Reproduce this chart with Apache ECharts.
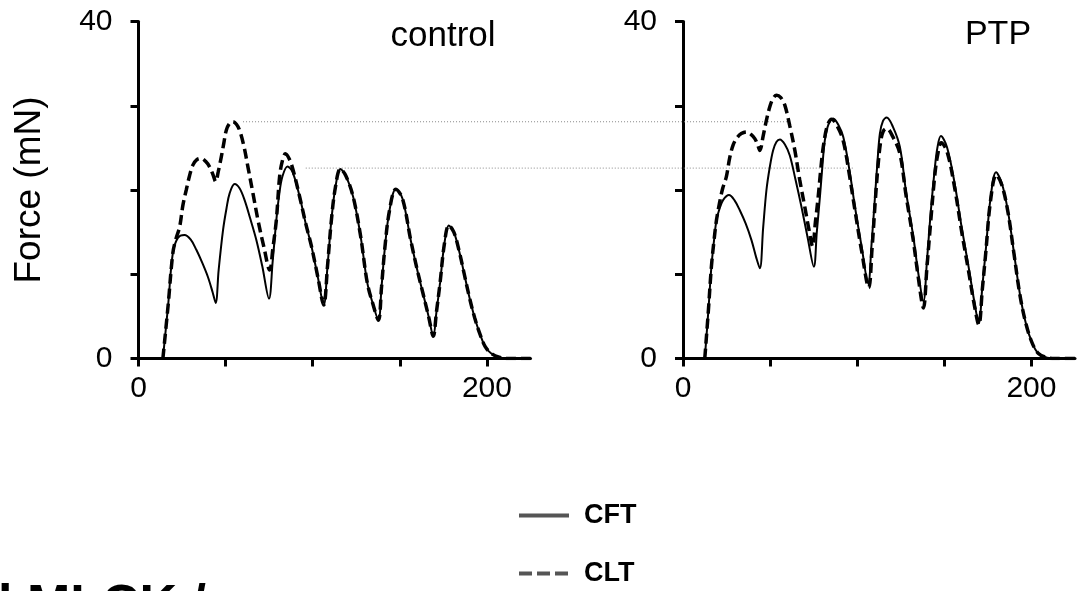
<!DOCTYPE html>
<html><head><meta charset="utf-8">
<script src="https://cdn.jsdelivr.net/npm/echarts@6/dist/echarts.min.js"></script>
<style>html,body{margin:0;padding:0;background:#fff}#c{width:1079px;height:591px}</style>
</head><body><div id="c"></div>
<script>
// ---- data ----
const panelNames = ['control', 'PTP'];
const xTicks = [0, 50, 100, 150, 200];
const xLabels = [0, 200];
const yTicks = [0, 10, 20, 30, 40];
const yLabels = [0, 40];
const seriesNames = ['CFT', 'CLT'];

const controlCFT = [[14,0],[17,6.3],[19.7,12.5],[22.6,14.3],[26.4,14.65],[30,14.1],[33.2,12.9],[36.5,11.4],[39.8,9.7],[42.5,7.9],[44.3,6.6],[46,10.5],[48.5,15.2],[50.5,17.8],[52.3,19.6],[55.2,20.7],[58,20.2],[60.9,18.8],[64,16.7],[67.6,14.1],[71,11],[74.9,7.1],[77,11.5],[79.1,16.4],[80.8,19.5],[82.6,21.6],[85.5,22.8],[88.5,22.1],[92.5,19.2],[96,16],[99.3,13.3],[103,9.6],[106.3,6.35],[108.5,11],[110.7,16.4],[113,20.3],[115.9,22.5],[119,21.7],[123.2,19.2],[127.5,14.5],[131.3,9.0],[134.5,6.5],[137.7,4.55],[139.5,8.5],[141.3,12.9],[144,17.5],[147.7,20.1],[151.5,19.0],[156.2,14.1],[160,10.5],[163.2,7.8],[166.5,5],[169.2,2.65],[171,5.5],[173.1,9.0],[175.5,13.5],[178.1,15.8],[181,15],[184,12.8],[187,10],[190,7.2],[193,4.8],[196,2.9],[199,1.4],[202.5,0.6],[207,0.15],[212,0],[225,0]];
const controlCLT = [[14,0],[17,6.3],[19.7,12.5],[21.5,14.2],[23.6,15.6],[25.5,18.2],[27.4,20.0],[29.3,21.7],[31.2,22.95],[33.5,23.6],[36,23.75],[38.5,23.4],[40.8,22.75],[42.8,21.8],[44.3,21.0],[45.8,22.2],[47.5,23.9],[49,25.6],[50.4,27.1],[52.3,27.9],[54.2,28.1],[56.2,27.8],[58,27.1],[60.5,25.2],[62.8,22.75],[65.7,19.6],[68.6,16.4],[72,13.2],[75.3,10.5],[77.2,13.2],[79.1,16.4],[81,21.6],[82.5,23.4],[84.3,24.3],[86.5,23.7],[88.7,22.4],[92.5,19.2],[96,16],[99.3,13.3],[103,9.6],[106.3,6.35],[108.5,11],[110.7,16.4],[113,20.3],[115.9,22.5],[119,21.7],[123.2,19.2],[127.5,14.5],[131.3,9.0],[134.5,6.5],[137.7,4.55],[139.5,8.5],[141.3,12.9],[144,17.5],[147.7,20.1],[151.5,19.0],[156.2,14.1],[160,10.5],[163.2,7.8],[166.5,5],[169.2,2.65],[171,5.5],[173.1,9.0],[175.5,13.5],[178.1,15.8],[181,15],[184,12.8],[187,10],[190,7.2],[193,4.8],[196,2.9],[199,1.4],[202.5,0.6],[207,0.15],[212,0],[225,0]];
const ptpCFT = [[12.5,0],[14.5,5.5],[16.3,10.9],[17.8,14],[19.2,16.4],[21,17.8],[23,18.8],[26.4,19.4],[29.5,18.8],[32.6,17.6],[36,16],[39.3,14.05],[42,12],[44.1,10.7],[46,15.5],[47.9,20.0],[49.8,22.7],[51.7,24.7],[53.6,25.7],[55.6,26.0],[58.5,25.4],[61.3,24.1],[64.5,21.3],[68,18.0],[71.5,14.4],[75.1,10.9],[76.8,15],[78.6,19.2],[80,22.8],[81.4,25.9],[83.5,27.8],[86.2,28.5],[89,27.8],[92,26.3],[95.5,22.4],[98.7,18.0],[102.5,13.3],[106.3,8.9],[108.2,13.5],[110.2,19.2],[111.6,23.3],[113,26.7],[114.8,28.2],[116.9,28.6],[120.5,27.5],[124.5,25.1],[128,19.8],[132.2,14.45],[135,10.2],[138,6.8],[140,11.5],[142,16.9],[144.5,22.5],[146,25],[148,26.4],[151.5,25.1],[155.9,20.8],[160,15.5],[163.9,10.9],[167,7],[169.8,4.2],[171.8,8.5],[173.8,12.9],[176.5,19],[179.7,22.1],[183,20.8],[186.5,17.5],[190,12.5],[193.5,7.5],[197,4],[200.5,1.8],[204,0.6],[209,0.1],[214,0],[225,0]];
const ptpCLT = [[12.5,0],[14.5,5.5],[16.3,10.9],[17.8,14],[19.2,16.4],[21,18.5],[22.8,20.2],[24.9,21.6],[26.8,23.8],[28.7,25.3],[31,26.2],[33.5,26.7],[36.4,26.9],[39,26.6],[41.2,26.1],[42.8,25.4],[44.1,24.7],[46,26.4],[47.9,28.3],[50,30.0],[51.8,30.9],[53.7,31.25],[56,31],[58.4,30.1],[61.3,27.6],[64.2,24.7],[67,21.2],[69.9,18.0],[72.3,15.3],[74.4,13.3],[76,16.2],[77.6,19.2],[79,22.3],[80.5,25.1],[82.8,27.6],[85.3,28.4],[88.5,27.6],[92,25.8],[95.5,21.8],[98.7,17.6],[102.5,12.8],[106.6,8.4],[108.5,13],[110.4,18.8],[112,23],[113.5,25.8],[115,27],[116.9,27.3],[120.5,26.3],[124.5,24.3],[128,19.4],[132.2,14.0],[135,9.7],[138,6.0],[140,10.8],[142.2,16.3],[144.5,21.7],[146.2,24.2],[148.2,25.6],[151.5,24.6],[155.9,20.3],[160,15],[163.9,10.4],[167,6.6],[169.8,4.0],[171.8,8.2],[173.8,12.6],[176.5,18.7],[179.8,21.8],[183,20.6],[186.5,17.4],[190,12.4],[193.5,7.4],[197,4],[200.5,1.8],[204,0.6],[209,0.1],[214,0],[225,0]];

// dotted reference levels (mN): start time in control panel, end time in PTP panel
const refLevels = [28.1, 22.6];
const refStartControl = [60, 96];
const refEndPTP = [60.5, 98];

// ---- layout ----
const X_MAX = 225, Y_MAX = 40;
const grids = [
  {left: 138.5, top: 21.5, width: 392, height: 337},
  {left: 683, top: 21.5, width: 392, height: 337}
];
const pxPerUnit = grids[0].width / X_MAX;
const panelOffset = (grids[1].left - grids[0].left) / pxPerUnit;
const overlayWidth = grids[1].left + grids[1].width - grids[0].left;
const overlayGrid = {left: grids[0].left, top: grids[0].top, width: overlayWidth, height: grids[0].height};
const FONT = "'Liberation Sans', Arial, sans-serif";

function xAxis(i) {
  return {
    type: 'value', gridIndex: i, min: 0, max: X_MAX,
    axisLine: {show: true, lineStyle: {color: '#000', width: 3}},
    axisTick: {show: true, length: 8, lineStyle: {color: '#000', width: 3}, customValues: xTicks},
    axisLabel: {customValues: xLabels, margin: 15, fontSize: 30, color: '#000', fontFamily: FONT},
    splitLine: {show: false}
  };
}
function yAxis(i) {
  return {
    type: 'value', gridIndex: i, min: 0, max: Y_MAX, interval: 10,
    axisLine: {show: true, lineStyle: {color: '#000', width: 3}},
    axisTick: {show: true, length: 8, lineStyle: {color: '#000', width: 3}, customValues: yTicks},
    axisLabel: {customValues: yLabels, margin: 26, fontSize: 30, color: '#000', fontFamily: FONT},
    splitLine: {show: false}
  };
}

const curves = [[controlCFT, controlCLT], [ptpCFT, ptpCLT]];
const series = [];
refLevels.forEach((lvl, k) => {
  series.push({
    type: 'line', xAxisIndex: 2, yAxisIndex: 2, silent: true,
    symbol: 'none', z: 1,
    lineStyle: {color: '#888', width: 1, type: [1, 2]},
    data: [[refStartControl[k], lvl], [refEndPTP[k] + panelOffset, lvl]]
  });
});
curves.forEach((pair, i) => {
  series.push({
    name: seriesNames[0], type: 'line', xAxisIndex: i, yAxisIndex: i,
    symbol: 'none', smooth: 0.35, z: 3,
    lineStyle: {color: '#000', width: 2},
    itemStyle: {color: '#555'},
    data: pair[0]
  });
  series.push({
    name: seriesNames[1], type: 'line', xAxisIndex: i, yAxisIndex: i,
    symbol: 'none', smooth: 0.35, z: 4,
    lineStyle: {color: '#000', width: 3.5, type: [10, 5]},
    itemStyle: {color: '#555'},
    data: pair[1]
  });
});

const hiddenX = {type: 'value', gridIndex: 2, min: 0, max: overlayWidth / pxPerUnit, show: false};
const hiddenY = {type: 'value', gridIndex: 2, min: 0, max: Y_MAX, show: false};

const legendDash = ['solid', [13, 5]];
const legendTops = [497, 555];
const legends = seriesNames.map((n, k) => ({
  orient: 'vertical', left: 512, top: legendTops[k], itemWidth: 50, itemHeight: 14,
  textStyle: {fontSize: 27, fontWeight: 'bold', color: '#000', padding: [0, 0, 0, 10],
    fontFamily: "'Liberation Sans Narrow', " + FONT},
  data: [{name: n, itemStyle: {color: 'rgba(0,0,0,0)', borderColor: 'rgba(0,0,0,0)', borderWidth: 0, opacity: 0},
    lineStyle: {color: '#555', width: 4, type: legendDash[k]}}]
}));

const chart = echarts.init(document.getElementById('c'), null, {renderer: 'canvas'});
chart.setOption({
  animation: false,
  backgroundColor: '#fff',
  grid: grids.concat([overlayGrid]).map(g => Object.assign({containLabel: false}, g)),
  xAxis: [xAxis(0), xAxis(1), hiddenX],
  yAxis: [yAxis(0), yAxis(1), hiddenY],
  legend: legends,
  graphic: [
    {type: 'text', x: 443, y: 36, style: {text: panelNames[0], font: '35px ' + FONT, fill: '#000', align: 'center', verticalAlign: 'middle'}},
    {type: 'text', x: 998, y: 35, style: {text: panelNames[1], font: '34px ' + FONT, fill: '#000', align: 'center', verticalAlign: 'middle'}},
    {type: 'text', x: 30, y: 190, rotation: Math.PI / 2, style: {text: 'Force (mN)', font: '37px ' + FONT, fill: '#000', align: 'center', verticalAlign: 'middle'}},
    {type: 'text', x: -2, y: 581, style: {text: 'l MLCK /', font: 'bold 52px ' + FONT, fill: '#000', align: 'left', verticalAlign: 'top'}}
  ],
  series: series
});
</script></body></html>
